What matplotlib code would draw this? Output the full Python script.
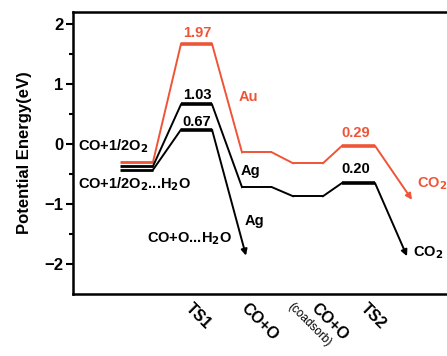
import matplotlib.pyplot as plt

plt.rcParams["font.family"] = ["Liberation Sans", "DejaVu Sans"]
plt.rcParams["font.weight"] = "bold"
plt.rcParams["axes.labelweight"] = "bold"
plt.rcParams["mathtext.default"] = "bf"

RED = "#f05436"

# energies (eV) at each state: initial, TS1, CO+O, CO+O(coadsorb), TS2, final
au_energy = [-0.30, 1.67, -0.14, -0.32, -0.03, -0.93]
ag_energy = [-0.37, 0.66, -0.72, -0.87, -0.65, -1.87]
# Ag with water: initial, TS1, final
agw_energy = [-0.43, 0.24, -1.86]

# barrier labels
au_barriers = ["1.97", "0.29"]
ag_barriers = ["1.03", "0.20"]
agw_barrier = "0.67"

tick_labels = ["TS1", "CO+O", "(coadsorb)", "CO+O", "TS2"]

# layout (x positions of level plateaus)
xs = [(4.7, 8.0), (10.8, 13.9), (16.9, 19.9), (22.0, 25.0), (26.9, 30.2)]
ts_idx = [1, 4]


def draw_path(ax, energies, color, x_end):
    for i, e in enumerate(energies[:-1]):
        x0, x1 = xs[i]
        lw = 2.6 if i in ts_idx else (2.0 if i == 0 else 1.4)
        ax.plot([x0, x1], [e, e], color=color, lw=lw, solid_capstyle="butt")
        if i < len(energies) - 2:
            ax.plot([x1, xs[i + 1][0]], [e, energies[i + 1]], color=color, lw=1.4)
    ax.annotate("", xy=(x_end, energies[-1]), xytext=(xs[len(energies) - 2][1], energies[-2]),
                arrowprops=dict(arrowstyle="-|>", color=color, lw=1.4,
                                mutation_scale=9, shrinkA=0, shrinkB=0))


fig = plt.figure(figsize=(4.47, 3.56), dpi=100)
ax = fig.add_axes([73 / 447, 62 / 356, 390 / 447, 282 / 356])

draw_path(ax, au_energy, RED, 33.9)
draw_path(ax, ag_energy, "black", 33.4)

# Ag + H2O path: initial -> TS1 -> arrow down
ax.plot(list(xs[0]), [agw_energy[0]] * 2, color="black", lw=2.0, solid_capstyle="butt")
ax.plot([xs[0][1], xs[1][0]], agw_energy[:2], color="black", lw=1.4)
ax.plot(list(xs[1]), [agw_energy[1]] * 2, color="black", lw=2.6, solid_capstyle="butt")
ax.annotate("", xy=(17.3, agw_energy[2]), xytext=(xs[1][1], agw_energy[1]),
            arrowprops=dict(arrowstyle="-|>", color="black", lw=1.4,
                            mutation_scale=9, shrinkA=0, shrinkB=0))

# barrier numbers
fs = 10.5
ax.text(12.4, 1.85, au_barriers[0], color=RED, fontsize=fs, ha="center", va="center")
ax.text(12.4, 0.82, ag_barriers[0], color="black", fontsize=fs, ha="center", va="center")
ax.text(12.4, 0.36, agw_barrier, color="black", fontsize=fs, ha="center", va="center")
ax.text(28.3, 0.18, au_barriers[1], color=RED, fontsize=fs, ha="center", va="center")
ax.text(28.3, -0.42, ag_barriers[1], color="black", fontsize=fs, ha="center", va="center")

# species labels
ax.text(0.5, -0.03, r"CO+1/2O$_2$", fontsize=fs, ha="left", va="center")
ax.text(0.5, -0.67, r"CO+1/2O$_2$...H$_2$O", fontsize=fs, ha="left", va="center")
ax.text(7.4, -1.57, r"CO+O...H$_2$O", fontsize=fs, ha="left", va="center")
ax.text(16.6, 0.78, "Au", color=RED, fontsize=fs, ha="left", va="center")
ax.text(16.8, -0.45, "Ag", fontsize=fs, ha="left", va="center")
ax.text(17.2, -1.28, "Ag", fontsize=fs, ha="left", va="center")
ax.text(34.4, -0.66, r"CO$_2$", color=RED, fontsize=fs, ha="left", va="center")
ax.text(34.0, -1.81, r"CO$_2$", color="black", fontsize=fs, ha="left", va="center")

ax.set_xlim(0, 39)
ax.set_ylim(-2.5, 2.2)
ax.set_yticks([2, 1, 0, -1, -2])
ax.set_yticks([1.5, 0.5, -0.5, -1.5], minor=True)
ax.tick_params(axis="y", which="major", length=5, width=1.5, labelsize=12, pad=2)
ax.tick_params(axis="y", which="minor", length=3, width=1.5)
ax.set_ylabel("Potential Energy(eV)", fontsize=12, labelpad=9)

ax.set_xticks([12.0, 17.6, 22.1, 24.6, 29.5])
ax.set_xticklabels(tick_labels, rotation=-45, ha="left", va="top", rotation_mode="anchor")
ax.tick_params(axis="x", length=0, pad=5, labelsize=11.5)
for lbl in ax.get_xticklabels():
    if lbl.get_text().startswith("("):
        lbl.set_fontsize(8.5)
        lbl.set_fontweight("normal")

for sp in ax.spines.values():
    sp.set_linewidth(1.8)

fig.savefig("out.png", dpi=100)
